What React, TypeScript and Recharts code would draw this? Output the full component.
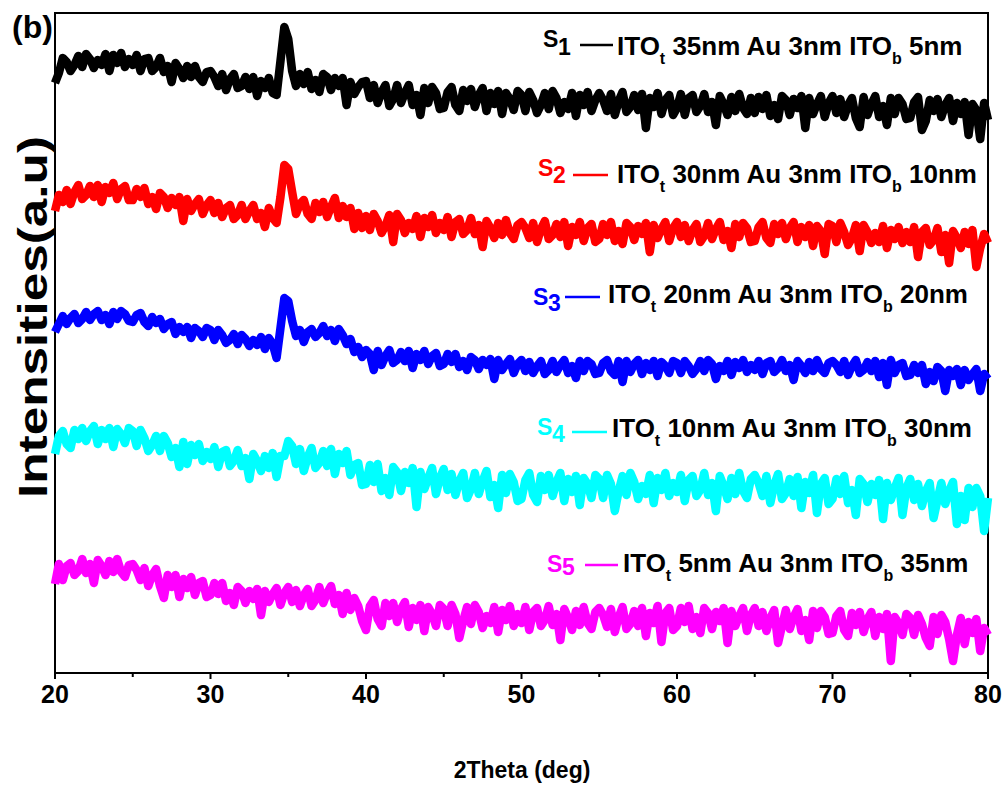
import React from 'react';
import { LineChart, Line, XAxis, YAxis, ReferenceArea } from 'recharts';

// XRD scan: 2θ from 20° to 80° in 0.25° steps
const SCAN_START = 20;
const SCAN_STEP = 0.25;

// Stacked intensities (a.u.), one value per scan step
const s1Counts = [
  590, 600, 615, 611, 602, 608, 617, 606, 619, 614, 605, 613, 608, 619, 602, 618, 610, 620, 606, 614,
  608, 618, 602, 614, 615, 602, 606, 615, 601, 607, 591, 610, 604, 595, 607, 596, 607, 596, 591, 601,
  602, 596, 587, 599, 583, 594, 599, 585, 587, 596, 584, 596, 577, 592, 585, 595, 580, 578, 612, 646,
  634, 602, 587, 599, 589, 601, 584, 593, 581, 599, 596, 583, 595, 587, 595, 568, 591, 579, 586, 591,
  592, 575, 588, 570, 581, 588, 567, 574, 588, 570, 580, 588, 568, 578, 558, 585, 570, 586, 580, 564,
  565, 581, 586, 568, 562, 583, 572, 584, 566, 578, 585, 562, 580, 569, 582, 559, 580, 574, 563, 582,
  578, 562, 581, 573, 560, 568, 580, 564, 582, 575, 560, 571, 564, 580, 557, 578, 568, 581, 562, 573,
  580, 573, 562, 579, 558, 572, 581, 561, 566, 578, 563, 579, 545, 575, 566, 580, 559, 573, 578, 558,
  565, 579, 558, 575, 578, 561, 567, 579, 561, 571, 548, 577, 569, 558, 576, 562, 579, 565, 559, 575,
  560, 576, 564, 578, 557, 568, 554, 577, 573, 558, 574, 565, 577, 545, 575, 559, 569, 577, 556, 570,
  577, 560, 574, 556, 568, 575, 555, 546, 576, 558, 569, 577, 556, 567, 548, 575, 559, 575, 569, 554,
  555, 571, 576, 543, 552, 573, 562, 574, 556, 568, 575, 552, 570, 559, 571, 538, 569, 563, 534, 570,
  553,
];

const s2Counts = [
  462, 478, 471, 483, 469, 481, 488, 474, 478, 487, 476, 488, 471, 486, 480, 490, 474, 484, 487, 473,
  473, 484, 476, 485, 469, 476, 464, 480, 476, 465, 475, 468, 476, 452, 474, 462, 469, 474, 459, 468,
  473, 460, 470, 456, 465, 468, 454, 458, 468, 454, 462, 468, 454, 460, 446, 465, 455, 450, 476, 508,
  504, 481, 459, 469, 473, 459, 454, 470, 461, 471, 456, 466, 475, 455, 467, 456, 465, 444, 460, 445,
  457, 443, 459, 452, 440, 447, 458, 431, 459, 453, 440, 450, 444, 457, 436, 455, 446, 458, 440, 450,
  443, 456, 436, 451, 454, 439, 443, 455, 439, 448, 426, 452, 445, 435, 450, 438, 453, 440, 434, 448,
  451, 445, 435, 450, 431, 444, 452, 434, 438, 449, 436, 451, 427, 446, 438, 451, 432, 445, 449, 431,
  434, 449, 438, 451, 432, 442, 429, 450, 446, 433, 447, 439, 450, 421, 448, 435, 444, 451, 432, 445,
  451, 436, 448, 432, 443, 449, 431, 437, 450, 434, 444, 451, 433, 442, 425, 449, 436, 450, 445, 431,
  432, 446, 451, 435, 430, 449, 439, 450, 434, 445, 451, 431, 446, 436, 448, 427, 447, 442, 419, 449,
  447, 431, 450, 441, 428, 435, 448, 422, 448, 441, 430, 440, 431, 447, 425, 443, 434, 446, 430, 441,
  431, 446, 416, 441, 445, 428, 433, 445, 421, 438, 410, 442, 435, 425, 441, 429, 443, 406, 425, 439,
  430,
];

const s3Counts = [
  341, 349, 357, 349, 355, 359, 350, 354, 361, 353, 359, 362, 353, 358, 349, 361, 354, 362, 359, 352,
  351, 358, 360, 351, 347, 356, 350, 354, 344, 349, 351, 339, 346, 341, 346, 335, 345, 342, 336, 345,
  343, 333, 343, 338, 330, 333, 339, 329, 338, 334, 327, 333, 328, 336, 324, 335, 329, 315, 345, 375,
  372, 352, 337, 343, 331, 341, 344, 336, 340, 347, 337, 343, 332, 344, 338, 329, 334, 321, 326, 316,
  323, 319, 303, 322, 308, 317, 323, 310, 313, 321, 312, 322, 305, 319, 313, 322, 309, 317, 320, 307,
  309, 319, 311, 319, 306, 312, 303, 316, 313, 304, 313, 308, 314, 294, 313, 303, 309, 314, 300, 309,
  313, 302, 311, 300, 307, 312, 299, 303, 312, 301, 308, 313, 300, 307, 295, 312, 302, 312, 309, 299,
  300, 310, 313, 302, 298, 312, 291, 312, 301, 309, 313, 299, 310, 303, 312, 297, 311, 307, 300, 312,
  310, 300, 312, 307, 299, 304, 312, 302, 313, 309, 294, 307, 302, 312, 298, 311, 305, 313, 301, 308,
  303, 312, 299, 310, 312, 301, 305, 313, 302, 308, 293, 312, 307, 300, 311, 302, 313, 304, 300, 310,
  312, 308, 301, 312, 298, 307, 313, 300, 303, 311, 302, 312, 296, 310, 288, 313, 300, 308, 310, 297,
  298, 308, 300, 308, 289, 301, 292, 306, 302, 282, 303, 297, 304, 288, 303, 293, 299, 304, 282, 299,
  294,
];

const s4Counts = [
  219, 237, 242, 229, 225, 243, 234, 245, 232, 242, 247, 229, 243, 234, 245, 226, 244, 239, 230, 245,
  242, 227, 243, 235, 222, 228, 237, 222, 237, 230, 216, 225, 206, 231, 209, 228, 218, 229, 212, 221,
  214, 226, 206, 221, 223, 207, 212, 223, 207, 215, 194, 219, 212, 202, 217, 205, 220, 196, 217, 217,
  232, 227, 209, 224, 202, 216, 225, 205, 210, 222, 207, 224, 199, 219, 210, 222, 198, 208, 210, 188,
  189, 208, 191, 209, 182, 195, 178, 206, 201, 182, 201, 190, 205, 166, 201, 184, 195, 205, 179, 195,
  204, 183, 199, 178, 192, 200, 175, 184, 200, 179, 192, 202, 176, 188, 165, 198, 180, 199, 191, 172,
  174, 193, 200, 178, 171, 197, 183, 198, 177, 191, 200, 172, 194, 181, 197, 168, 195, 189, 175, 198,
  194, 175, 198, 189, 162, 182, 197, 178, 200, 191, 174, 187, 179, 198, 170, 195, 183, 200, 177, 190,
  181, 198, 172, 193, 197, 177, 183, 200, 178, 190, 162, 197, 187, 174, 195, 179, 200, 182, 175, 194,
  198, 190, 177, 197, 170, 188, 199, 174, 180, 194, 177, 196, 165, 191, 180, 198, 160, 189, 195, 169,
  174, 194, 179, 197, 170, 183, 158, 194, 189, 171, 189, 178, 193, 154, 190, 173, 185, 195, 158, 185,
  194, 173, 189, 167, 182, 190, 155, 173, 190, 169, 182, 191, 149, 177, 153, 185, 166, 185, 177, 142,
  175,
];

const s5Counts = [
  89, 109, 93, 107, 110, 98, 102, 114, 100, 109, 90, 113, 107, 98, 112, 101, 114, 101, 96, 108,
  109, 103, 93, 105, 87, 98, 104, 87, 75, 98, 86, 98, 76, 94, 85, 96, 78, 90, 92, 76,
  78, 90, 79, 90, 72, 80, 68, 86, 82, 70, 82, 74, 84, 58, 82, 71, 79, 85, 68, 80,
  86, 71, 83, 67, 78, 84, 67, 73, 86, 70, 80, 87, 69, 78, 59, 80, 63, 75, 67, 52,
  43, 67, 73, 54, 47, 70, 57, 70, 51, 64, 71, 46, 65, 53, 68, 42, 66, 59, 47, 68,
  64, 47, 68, 59, 35, 52, 66, 49, 68, 61, 45, 57, 50, 66, 41, 63, 53, 67, 47, 59,
  50, 66, 43, 61, 65, 47, 53, 67, 48, 59, 33, 64, 55, 43, 62, 48, 66, 50, 44, 61,
  65, 58, 46, 64, 41, 56, 66, 44, 49, 62, 47, 65, 37, 60, 50, 67, 31, 60, 65, 43,
  47, 65, 51, 67, 44, 56, 40, 65, 60, 44, 61, 52, 65, 30, 62, 47, 57, 65, 42, 58,
  65, 47, 61, 42, 55, 63, 30, 47, 63, 44, 56, 64, 42, 53, 33, 62, 45, 62, 56, 39,
  40, 57, 62, 43, 37, 60, 48, 61, 41, 54, 61, 37, 56, 44, 59, 12, 56, 50, 38, 59,
  55, 38, 58, 49, 35, 27, 56, 39, 58, 51, 34, 12, 38, 55, 29, 51, 40, 54, 22, 45,
  38,
];

// Sample stack descriptions
const sampleIds = ['1', '2', '3', '4', '5'];
const itoTopNm = [35, 30, 20, 10, 5];
const auNm = [3, 3, 3, 3, 3];
const itoBottomNm = [5, 10, 20, 30, 35];
const sampleColors = ['#000000', '#FF0000', '#0000FF', '#00FFFF', '#FF00FF'];

const majorTicks = [20, 30, 40, 50, 60, 70, 80];
const allTicks = [20, 25, 30, 35, 40, 45, 50, 55, 60, 65, 70, 75, 80];

const seriesCounts = [s1Counts, s2Counts, s3Counts, s4Counts, s5Counts];
const seriesKeys = ['s1', 's2', 's3', 's4', 's5'];

const data = s1Counts.map((_, i) => {
  const row: Record<string, number> = { x: SCAN_START + i * SCAN_STEP };
  seriesKeys.forEach((k, j) => {
    row[k] = seriesCounts[j][i];
  });
  return row;
});

const FONT = "'Liberation Sans', Arial, Helvetica, sans-serif";

// legend placement for each sample row
const legendLayout = [
  { sx: 543, sDy: -8, dDy: 0, lx1: 580, lx2: 613, ly: 45, tx: 617, base: 55 },
  { sx: 538, sDy: -7, dDy: 0, lx1: 573, lx2: 608, ly: 175, tx: 617, base: 183 },
  { sx: 533, sDy: 2, dDy: 8, lx1: 565, lx2: 600, ly: 297, tx: 608, base: 303 },
  { sx: 537, sDy: -2, dDy: 5, lx1: 572, lx2: 607, ly: 432, tx: 612, base: 437 },
  { sx: 547, sDy: 0, dDy: 3, lx1: 585, lx2: 618, ly: 565, tx: 623, base: 572 },
];

const XTick = (props: any) => {
  const { x, y, payload } = props;
  const isMajor = majorTicks.includes(payload.value);
  return (
    <g>
      <line x1={x} x2={x} y1={y} y2={y + (isMajor ? 6 : 4)} stroke="#000" strokeWidth={2} />
      {isMajor && (
        <text x={x} y={y + 30} textAnchor="middle" fontFamily={FONT} fontWeight="bold" fontSize={25} fill="#000">
          {payload.value}
        </text>
      )}
    </g>
  );
};

function LegendRow({ i }: { i: number }) {
  const l = legendLayout[i];
  const color = sampleColors[i];
  return (
    <g fontFamily={FONT} fontWeight="bold">
      <text x={l.sx} y={l.base + l.sDy} fontSize={23} fill={color}>S</text>
      <text x={l.sx + 15} y={l.base + l.dDy} fontSize={23} fill={color}>{sampleIds[i]}</text>
      <line x1={l.lx1} x2={l.lx2} y1={l.ly} y2={l.ly} stroke={color} strokeWidth={2.5} />
      <text x={l.tx} y={l.base} fontSize={26} fill="#000">
        ITO
        <tspan fontSize={16} dy={9}>t</tspan>
        <tspan dy={-9}>{` ${itoTopNm[i]}nm Au ${auNm[i]}nm ITO`}</tspan>
        <tspan fontSize={16} dy={9}>b</tspan>
        <tspan dy={-9}>{` ${itoBottomNm[i]}nm`}</tspan>
      </text>
    </g>
  );
}

export default function App() {
  return (
    <div style={{ position: 'relative', width: 1007, height: 787, background: '#fff' }}>
      <style>{`body{margin:0;}`}</style>
      <LineChart width={1007} height={787} data={data} margin={{ top: 13, right: 19, bottom: 54, left: 55 }}>
        <XAxis
          dataKey="x"
          type="number"
          domain={[20, 80]}
          ticks={allTicks}
          interval={0}
          height={60}
          tickSize={0}
          tickMargin={0}
          tickLine={false}
          axisLine={{ stroke: '#000', strokeWidth: 2 }}
          tick={<XTick />}
        />
        <YAxis
          type="number"
          domain={[0, 660]}
          width={0}
          tick={false}
          tickLine={false}
          axisLine={{ stroke: '#000', strokeWidth: 2.5 }}
        />
        <ReferenceArea x1={20} x2={80} y1={0} y2={660} fill="none" stroke="#000" strokeWidth={2} />
        {seriesKeys.map((k, j) => (
          <Line
            key={k}
            dataKey={k}
            stroke={sampleColors[j]}
            strokeWidth={8.5}
            strokeLinejoin="round"
            dot={false}
            activeDot={false}
            isAnimationActive={false}
          />
        ))}
      </LineChart>
      <svg
        width={1007}
        height={787}
        style={{ position: 'absolute', left: 0, top: 0, pointerEvents: 'none', overflow: 'visible' }}
      >
        <text x={12} y={38} fontFamily={FONT} fontWeight="bold" fontSize={32} fill="#000">(b)</text>
        {sampleIds.map((_, i) => (
          <LegendRow key={i} i={i} />
        ))}
        <text
          transform="translate(47,317) rotate(-90)"
          textAnchor="middle"
          fontFamily={FONT}
          fontWeight="bold"
          fontSize={41}
          textLength={362}
          lengthAdjust="spacingAndGlyphs"
          fill="#000"
        >
          Intensities(a.u)
        </text>
        <text x={522} y={778} textAnchor="middle" fontFamily={FONT} fontWeight="bold" fontSize={23} fill="#000">
          2Theta (deg)
        </text>
      </svg>
    </div>
  );
}
